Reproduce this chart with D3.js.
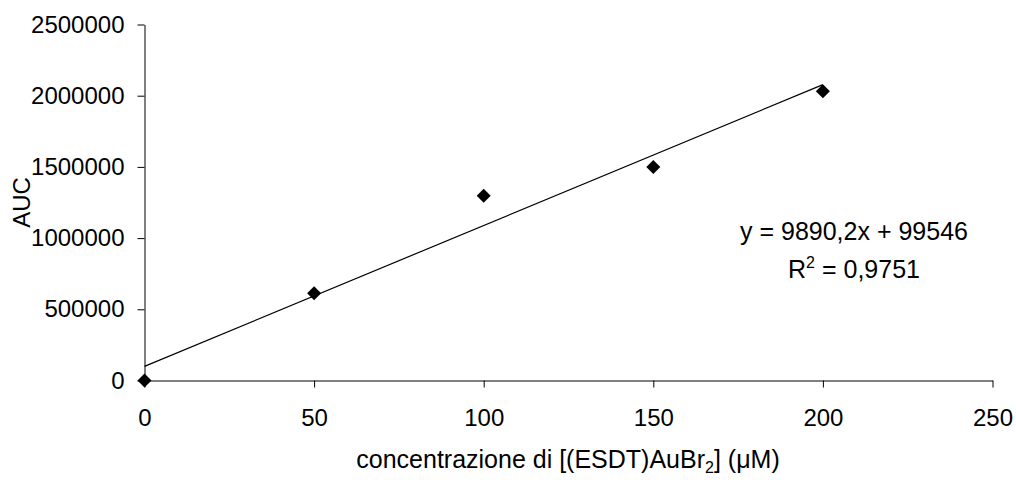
<!DOCTYPE html>
<html><head><meta charset="utf-8">
<script src="https://cdn.jsdelivr.net/npm/d3@7/dist/d3.min.js"></script>
<style>
body{margin:0;background:#fff;}
text{font-family:"Liberation Sans",Arial,sans-serif;fill:#000;}
</style></head>
<body>
<svg id="chart" width="1016" height="480"></svg>
<script>
const concentrations = [0, 50, 100, 150, 200];
const aucValues = [0, 612000, 1298000, 1500000, 2032000];
const xTicks = [0, 50, 100, 150, 200, 250];
const yTicks = [0, 500000, 1000000, 1500000, 2000000, 2500000];
const slope = 9890.2, intercept = 99546;
const eqLine1 = "y = 9890,2x + 99546";
const r2Value = "0,9751";

const svg = d3.select("#chart");
const fs = 24;
const x = d3.scaleLinear().domain([0, 250]).range([144.5, 992.5]);
const y = d3.scaleLinear().domain([0, 2500000]).range([380.5, 24.5]);

const xAxis = svg.append("g").attr("transform", `translate(0,${y(0)})`)
  .call(d3.axisBottom(x).tickValues(xTicks).tickSize(7).tickSizeOuter(0).tickPadding(21).tickFormat(d3.format("d")));
const yAxis = svg.append("g").attr("transform", `translate(${x(0)},0)`)
  .call(d3.axisLeft(y).tickValues(yTicks).tickSize(7).tickSizeOuter(0).tickPadding(13).tickFormat(d3.format("d")));
[xAxis, yAxis].forEach(g => {
  g.selectAll("path,line").attr("stroke", "#000").attr("stroke-width", 1);
  g.selectAll("text").attr("font-size", fs).attr("font-family", "Liberation Sans, Arial, sans-serif").attr("fill", "#000");
});

// trend line
svg.append("line")
  .attr("x1", x(0)).attr("y1", y(intercept))
  .attr("x2", x(200)).attr("y2", y(slope * 200 + intercept))
  .attr("stroke", "#000").attr("stroke-width", 1.2);

// points
svg.selectAll("path.pt").data(concentrations.map((c, i) => [c, aucValues[i]]))
  .enter().append("path").attr("class", "pt")
  .attr("d", d3.symbol().type(d3.symbolDiamond2 || d3.symbolDiamond).size(125))
  .attr("transform", d => `translate(${x(d[0])},${y(d[1])})`)
  .attr("fill", "#000");

// equation
const eqFs = 25;
const eq = svg.append("text").attr("x", 854).attr("y", 240).attr("text-anchor", "middle").attr("font-size", eqFs);
eq.text(eqLine1);
const r2 = svg.append("text").attr("x", 854).attr("y", 278).attr("text-anchor", "middle").attr("font-size", eqFs);
r2.append("tspan").text("R");
r2.append("tspan").attr("dy", -10).attr("font-size", 16).text("2");
r2.append("tspan").attr("dy", 10).text(" = " + r2Value);

// x label
const xl = svg.append("text").attr("x", 568).attr("y", 468).attr("text-anchor", "middle").attr("font-size", 25);
xl.append("tspan").text("concentrazione di [(ESDT)AuBr");
xl.append("tspan").attr("dy", 5).attr("font-size", 16).text("2");
xl.append("tspan").attr("dy", -5).text("] (μM)");

// y label
svg.append("text").attr("transform", `translate(30,${(y(0) + y(2500000)) / 2}) rotate(-90)`)
  .attr("text-anchor", "middle").attr("font-size", fs).text("AUC");
</script>
</body></html>
